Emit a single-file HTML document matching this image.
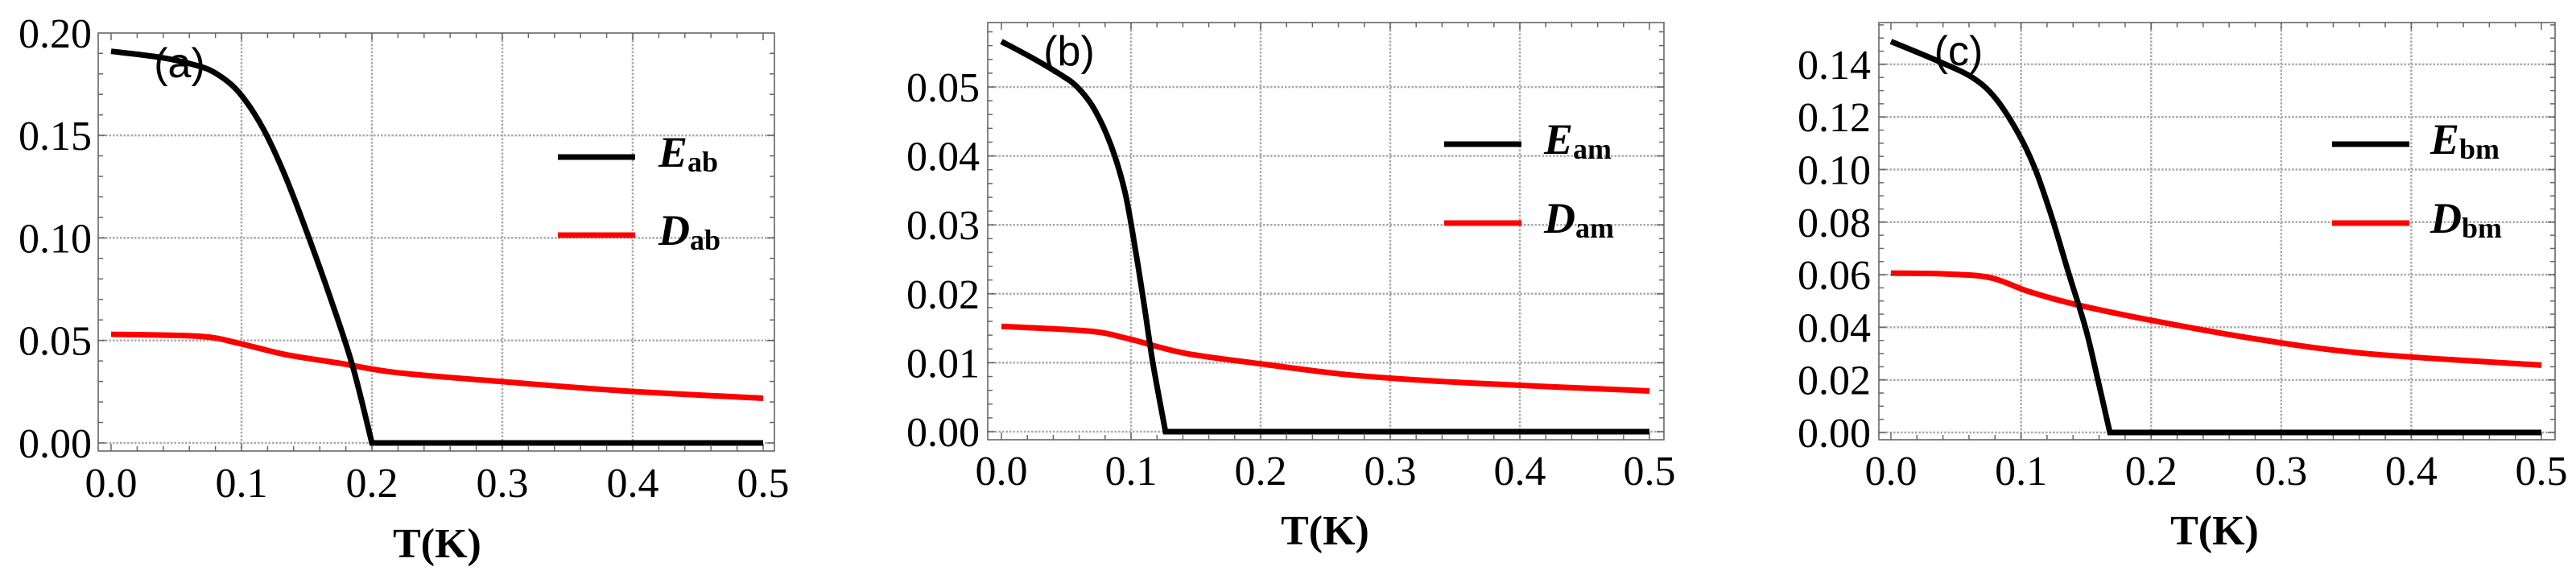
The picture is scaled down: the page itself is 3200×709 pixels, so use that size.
<!DOCTYPE html>
<html><head><meta charset="utf-8">
<style>
html,body{margin:0;padding:0;background:#fff;}
svg{display:block;}
.tick{font-family:"Liberation Serif",serif;font-size:52px;fill:#000;}
.axt{font-family:"Liberation Serif",serif;font-size:52px;font-weight:bold;fill:#000;}
.pl{font-family:"Liberation Sans",sans-serif;font-size:52px;fill:#000;}
.leg{font-family:"Liberation Serif",serif;font-weight:bold;fill:#000;}
</style></head>
<body>
<svg id="chart" width="3200" height="709" viewBox="0 0 3200 709" xmlns="http://www.w3.org/2000/svg"></svg>
<script>
// Panel (a)
const aE_T = [0, 0.038, 0.066, 0.081, 0.098, 0.116, 0.133, 0.150, 0.168, 0.185, 0.2];
const aE_V = [0.191, 0.188, 0.184, 0.180, 0.171, 0.154, 0.131, 0.103, 0.071, 0.038, 0];
const aD_T = [0, 0.068, 0.098, 0.133, 0.176, 0.219, 0.302, 0.393, 0.5];
const aD_V = [0.053, 0.052, 0.0486, 0.0432, 0.0388, 0.0343, 0.0298, 0.0254, 0.0218];
const aYTicks = ["0.00","0.05","0.10","0.15","0.20"];
// Panel (b)
const bE_T = [0, 0.024, 0.0455, 0.0585, 0.0716, 0.0846, 0.0954, 0.104, 0.1106, 0.117, 0.1266];
const bE_V = [0.0566, 0.0542, 0.0518, 0.050, 0.0468, 0.0415, 0.0347, 0.0257, 0.0178, 0.0098, 0];
const bD_T = [0, 0.067, 0.0976, 0.141, 0.2017, 0.271, 0.358, 0.5];
const bD_V = [0.01527, 0.0146, 0.0135, 0.0114, 0.0098, 0.0082, 0.0071, 0.0059];
const bYTicks = ["0.00","0.01","0.02","0.03","0.04","0.05"];
// Panel (c)
const cE_T = [0, 0.0369, 0.0629, 0.0802, 0.0976, 0.1106, 0.1236, 0.1366, 0.1496, 0.1583, 0.1683];
const cE_V = [0.1487, 0.1411, 0.1349, 0.1272, 0.1140, 0.1005, 0.0820, 0.0606, 0.0397, 0.0217, 0];
const cD_T = [0, 0.041, 0.076, 0.106, 0.141, 0.2017, 0.28, 0.366, 0.5];
const cD_V = [0.0606, 0.0603, 0.0589, 0.0536, 0.0488, 0.0425, 0.0356, 0.030, 0.0256];
const cYTicks = ["0.00","0.02","0.04","0.06","0.08","0.10","0.12","0.14"];
const xTicks = ["0.0","0.1","0.2","0.3","0.4","0.5"];
const tMax = 0.5;

const NS="http://www.w3.org/2000/svg";
const svg=document.getElementById('chart');
function mk(tag,attrs,parent){const e=document.createElementNS(NS,tag);for(const k in attrs)e.setAttribute(k,attrs[k]);(parent||svg).appendChild(e);return e;}

function catmull(pts){
  let d="M"+pts[0][0]+","+pts[0][1];
  for(let i=0;i<pts.length-1;i++){
    const p0=pts[Math.max(i-1,0)],p1=pts[i],p2=pts[i+1],p3=pts[Math.min(i+2,pts.length-1)];
    const c1=[p1[0]+(p2[0]-p0[0])/6,p1[1]+(p2[1]-p0[1])/6];
    const c2=[p2[0]-(p3[0]-p1[0])/6,p2[1]-(p3[1]-p1[1])/6];
    d+=" C"+c1[0]+","+c1[1]+" "+c2[0]+","+c2[1]+" "+p2[0]+","+p2[1];
  }
  return d;
}

function panel(cfg){
  const g=mk('g',{});
  
  
  const X=t=>cfg.x0+(t/tMax)*(cfg.x5-cfg.x0);
  const Y=v=>cfg.y0-(v/cfg.ystep)*cfg.ypx;
  for(let i=1;i<xTicks.length-1;i++){
    const gl=mk('line',{x1:X(i*0.1),x2:X(i*0.1),y1:cfg.top,y2:cfg.bot,stroke:'#aaa','stroke-width':2.5,'stroke-dasharray':'2.5,2'},g);
    
    
  }
  for(let i=0;i<cfg.yt.length;i++){
    const y=Y(i*cfg.ystep); if(y<cfg.top+3)continue;
    const gl=mk('line',{x1:cfg.left,x2:cfg.left+840,y1:y,y2:y,stroke:'#aaa','stroke-width':2.5,'stroke-dasharray':'2.5,2'},g);
    
    
  }
  const fr=mk('rect',{x:cfg.left,y:cfg.top,width:840,height:cfg.bot-cfg.top,fill:'none',stroke:'#666','stroke-width':1.6},g);
  
  
  for(let k=0;k<=25;k++){
    const t=k*0.02,x=X(t),len=(k%5===0)?9:6;
    mk('line',{x1:x,x2:x,y1:cfg.bot,y2:cfg.bot-len,stroke:'#666','stroke-width':1.5},g);
    mk('line',{x1:x,x2:x,y1:cfg.top,y2:cfg.top+len,stroke:'#666','stroke-width':1.5},g);
  }
  const nMin=cfg.minor;
  for(let k=0;;k++){
    const v=k*cfg.ystep/nMin,y=Y(v); if(y<cfg.top)break;
    const len=(k%nMin===0)?9:6;
    mk('line',{x1:cfg.left,x2:cfg.left+len,y1:y,y2:y,stroke:'#666','stroke-width':1.5},g);
    mk('line',{x1:cfg.left+840,x2:cfg.left+840-len,y1:y,y2:y,stroke:'#666','stroke-width':1.5},g);
  }
  xTicks.forEach((s,i)=>{
    const t=mk('text',{x:X(i*0.1),y:cfg.xlabY,'text-anchor':'middle',class:'tick'},g);t.textContent=s;
    
    
  });
  cfg.yt.forEach((s,i)=>{
    const t=mk('text',{x:cfg.ylabR,y:Y(i*cfg.ystep)+18,'text-anchor':'end',class:'tick'},g);t.textContent=s;
    
    
  });
  const at=mk('text',{x:cfg.axX,y:cfg.axY,'text-anchor':'middle',class:'axt'},g);at.textContent='T(K)';
  
  
  const dp=cfg.DT.map((t,i)=>[X(t),Y(cfg.DV[i])]);
  const dl=mk('path',{d:catmull(dp),fill:'none',stroke:'#ff0000','stroke-width':7,'stroke-linejoin':'round'},g);
  
  
  const ep=cfg.ET.map((t,i)=>[X(t),Y(cfg.EV[i])]);
  const last=ep[ep.length-1];
  const el=mk('path',{d:catmull(ep)+" L"+X(tMax)+","+last[1],fill:'none',stroke:'#000','stroke-width':7,'stroke-linejoin':'miter'},g);
  
  
  const pl=mk('text',{x:cfg.plX,y:cfg.plY+18,'text-anchor':'middle',class:'pl'},g);pl.textContent='('+cfg.id+')';
  
  
  [['E','#000',cfg.legY1],['D','#ff0000',cfg.legY2]].forEach(([n,c,y])=>{
    const ln=mk('line',{x1:cfg.legX1,x2:cfg.legX1+96,y1:y,y2:y,stroke:c,'stroke-width':7},g);
    
    
    const tx=mk('text',{x:cfg.legTX,y:y+12,class:'leg'},g);
    
    
    const a=mk('tspan',{'font-style':'italic','font-size':'54px'},tx);a.textContent=n;
    const b=mk('tspan',{'font-size':'36px',dy:'6'},tx);b.textContent=cfg.sub;
  });
}

panel({id:'a',sub:'ab',left:122,top:41,bot:560,x0:138,x5:948,y0:550,ystep:0.05,ypx:127.3,minor:5,yt:aYTicks,
  ylabR:114,xlabY:617,axX:543,axY:692,ET:aE_T,EV:aE_V,DT:aD_T,DV:aD_V,plX:223,plY:78,
  legX1:693,legY1:195,legY2:292,legTX:818});
panel({id:'b',sub:'am',left:1227,top:28,bot:546,x0:1244,x5:2049,y0:536,ystep:0.01,ypx:85.6,minor:5,yt:bYTicks,
  ylabR:1217,xlabY:602,axX:1646,axY:676,ET:bE_T,EV:bE_V,DT:bD_T,DV:bD_V,plX:1328,plY:63,
  legX1:1794,legY1:179,legY2:277,legTX:1918});
panel({id:'c',sub:'bm',left:2334,top:28,bot:546,x0:2349,x5:3157,y0:537,ystep:0.02,ypx:65.3,minor:4,yt:cYTicks,
  ylabR:2324,xlabY:602,axX:2751,axY:676,ET:cE_T,EV:cE_V,DT:cD_T,DV:cD_V,plX:2433,plY:63,
  legX1:2897,legY1:179,legY2:277,legTX:3019});
</script>
</body></html>
